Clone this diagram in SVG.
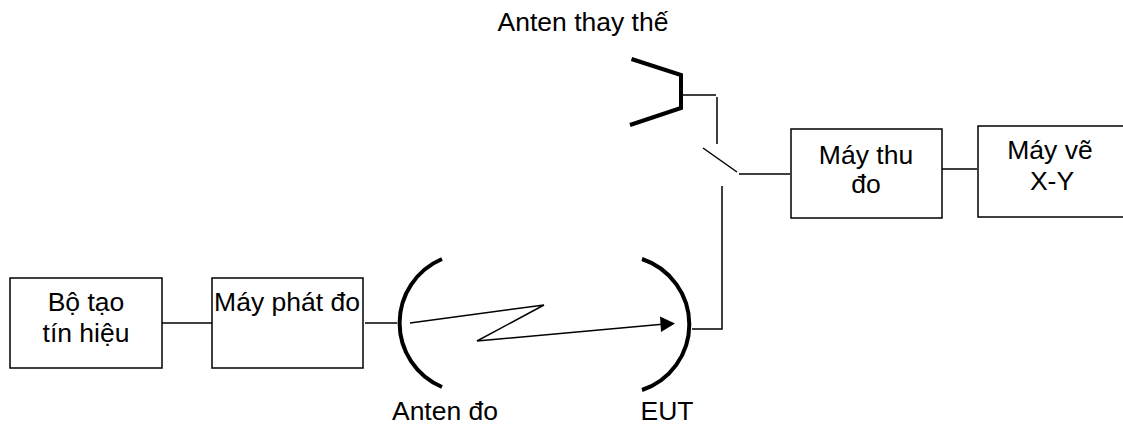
<svg xmlns="http://www.w3.org/2000/svg" width="1123" height="425" viewBox="0 0 1123 425">
<style>
text{font-family:"Liberation Sans",Arial,sans-serif;font-size:26.500px;fill:#000;text-anchor:middle}
.b{fill:#fff;stroke:#000;stroke-width:1.500}
.l{fill:none;stroke:#000;stroke-width:1.500}
.t{fill:none;stroke:#000;stroke-width:4}
</style>
<rect width="1123" height="425" fill="#fff"/>
<g id="connectors">
<path class="l" d="M162 323H212M365 323H397M692 329H722V186M682 95H716M717 97V144M703 148L737 172M739 174H790M942 169H977"/>
<path class="l" d="M410 323L544 305L477 341L665 324"/>
<path d="M675 323.500L660 316.500L661 332Z" fill="#000"/>
</g>
<g id="gen"><rect class="b" x="10" y="278" width="152" height="90"/><text x="86" y="311">Bộ tạo</text><text x="86" y="342">tín hiệu</text></g>
<g id="tx"><rect class="b" x="212" y="278" width="151" height="90"/><text x="287" y="311">Máy phát đo</text></g>
<g id="rx"><rect class="b" x="791" y="129" width="151" height="89"/><text x="866" y="164">Máy thu</text><text x="866" y="193">đo</text></g>
<g id="plotter"><rect class="b" x="978" y="126" width="150" height="91"/><text x="1050" y="159">Máy vẽ</text><text x="1052" y="190">X-Y</text></g>
<g id="ant-alt"><path class="t" d="M631.500 59L681 75V108L630 125"/><text x="583" y="31">Anten thay thế</text></g>
<g id="ant-meas"><path class="t" d="M442 259A69.500 69.500 0 0 0 442 387"/><text x="445" y="420">Anten đo</text></g>
<g id="eut"><path class="t" d="M642 259A69 69 0 0 1 642 390"/><text x="667" y="420">EUT</text></g>
</svg>
